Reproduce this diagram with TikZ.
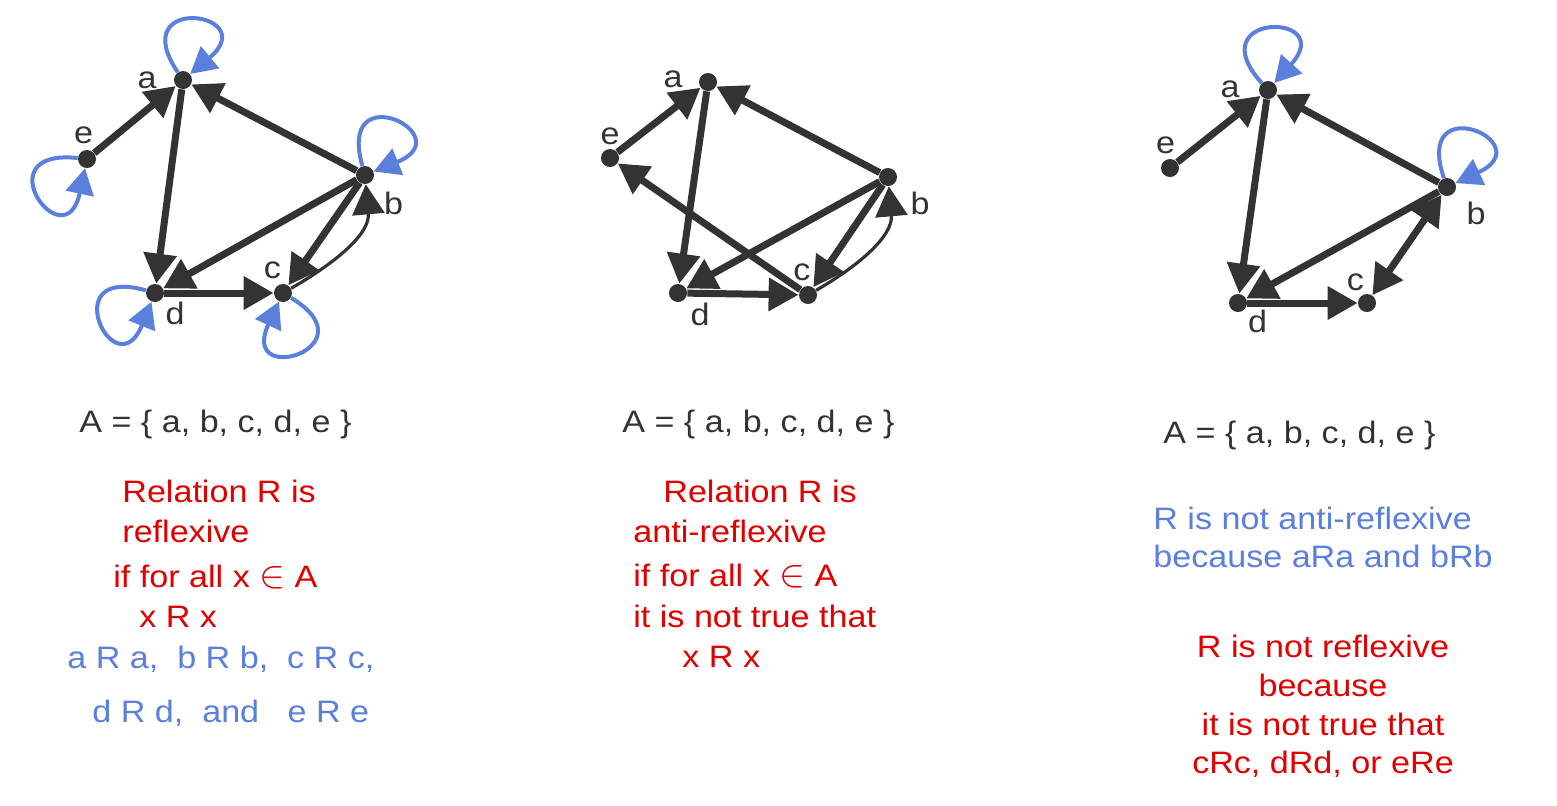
\documentclass[tikz,border=0pt]{standalone}
\usepackage{fontspec}
\setmainfont{Liberation Sans}[FakeStretch=1.1]
\usepackage{graphicx}
\usepackage{tikz}
\usetikzlibrary{positioning, calc}
\usetikzlibrary{arrows.meta}
\definecolor{edgegray}{HTML}{333333}
\definecolor{loopblue}{HTML}{5A7FDD}
\definecolor{textred}{HTML}{E00000}
\newcommand{\txtfont}{\fontsize{15.5pt}{18pt}\selectfont}
\newcommand{\elem}{\scalebox{1.35}{$\in$}}
\tikzstyle{vertex}=[circle, fill=edgegray, inner sep=0pt, minimum size=9pt]
\tikzstyle{vlabel}=[text=edgegray, inner sep=0pt, font=\txtfont]
\tikzstyle{edgepath}=[color=edgegray, line width=3.5pt, -{Triangle[length=15pt,width=16pt]}]
\tikzstyle{curvepath}=[line width=1.6pt]
\tikzstyle{tipboth}=[{Triangle[length=15pt,width=16pt]}-{Triangle[length=15pt,width=16pt]}]
\tikzstyle{reflloop}=[color=loopblue, line width=2pt, -{Triangle[length=13pt,width=14pt]}, distance=48pt]
\tikzstyle{settext}=[text=edgegray, anchor=base west, inner sep=0pt, font=\txtfont]
\tikzstyle{redtext}=[settext, text=textred]
\tikzstyle{bluetext}=[settext, text=loopblue]
\tikzset{
    offset/.style args={#1 from #2}{
        at = {([shift={#1}]#2)}
    }
}

\begin{document}
\begin{tikzpicture}[x=0.5pt, y=0.5pt]
    \useasboundingbox (0,0) rectangle (1557,-805);

    % reflexive
    \node[vertex] (a1) at (183,-80) {};
    \node[vertex] (b1) at (365,-175) {};
    \node[vertex] (c1) at (283,-293) {};
    \node[vertex] (d1) at (155,-293) {};
    \node[vertex] (e1) at (87,-159) {};
    \node[vlabel, offset={(-36,0)} from a1] (la1) {a};
    \node[vlabel, offset={(28.5,-28.5)} from b1] (lb1) {b};
    \node[vlabel, offset={(-10.5,22.5)} from c1] (lc1) {c};
    \node[vlabel, offset={(20,-20)} from d1] (ld1) {d};
    \node[vlabel, offset={(-3.5,23.5)} from e1] (le1) {e};

    \path[edgepath]
        (e1) edge (a1)
        (b1) edge (a1)
        (a1) edge (d1)
        (b1) edge (d1)
        (d1) edge (c1)
        (b1) edge (c1)
        (c1) edge[curvepath, out=30, in=-85] (b1);
    \path[reflloop]
        (a1) edge[out=124, in=40] (a1)
        (b1) edge[out=106, in=22] (b1)
        (c1) edge[out=329, in=245] (c1)
        (d1) edge[out=164, in=248] (d1)
        (e1) edge[out=174, in=258] (e1);

    % anti-reflexive
    \node[vertex] (a2) at (708,-82) {};
    \node[vertex] (b2) at (888,-177) {};
    \node[vertex] (c2) at (808,-295) {};
    \node[vertex] (d2) at (678,-293) {};
    \node[vertex] (e2) at (610,-158) {};
    \node[vlabel, offset={(-35,3)} from a2] (la2) {a};
    \node[vlabel, offset={(32,-26)} from b2] (lb2) {b};
    \node[vlabel, offset={(-6,22.5)} from c2] (lc2) {c};
    \node[vlabel, offset={(22,-21)} from d2] (ld2) {d};
    \node[vlabel, offset={(0,22)} from e2] (le2) {e};

    \path[edgepath]
        (e2) edge (a2)
        (b2) edge (a2)
        (a2) edge (d2)
        (b2) edge (d2)
        (d2) edge (c2)
        (b2) edge (c2)
        (c2) edge (e2)
        (c2) edge[curvepath, out=30, in=-85] (b2);

    % neither
    \node[vertex] (a3) at (1268,-90) {};
    \node[vertex] (b3) at (1447,-187) {};
    \node[vertex] (c3) at (1367,-303) {};
    \node[vertex] (d3) at (1238,-303) {};
    \node[vertex] (e3) at (1170,-168) {};
    \node[vlabel, offset={(-38,1)} from a3] (la3) {a};
    \node[vlabel, offset={(29,-26)} from b3] (lb3) {b};
    \node[vlabel, offset={(-11.5,20.5)} from c3] (lc3) {c};
    \node[vlabel, offset={(19.5,-18.5)} from d3] (ld3) {d};
    \node[vlabel, offset={(-4.5,22.5)} from e3] (le3) {e};

    \path[edgepath]
        (e3) edge (a3)
        (b3) edge (a3)
        (a3) edge (d3)
        (b3) edge (d3)
        (d3) edge (c3)
        (c3) edge[tipboth] (b3);
    \path[reflloop]
        (a3) edge[out=132, in=48] (a3)
        (b3) edge[out=109, in=25] (b3);

    % texts
    \node[settext] (set1) at (79,-432) {A = \{ a, b, c, d, e \}};
    \node[redtext] (t11) at (122,-502) {Relation R is};
    \node[redtext] (t12) at (122,-542) {reflexive};
    \node[redtext] (t13) at (113,-587) {if for all x \elem{} A};
    \node[redtext] (t14) at (139,-627) {x R x};
    \node[bluetext] (t15) at (67,-668) {a R a,\ \ b R b,\ \ c R c,};
    \node[bluetext] (t16) at (92,-722) {d R d,\ \ and\ \ \ e R e};

    \node[settext] (set2) at (622,-432) {A = \{ a, b, c, d, e \}};
    \node[redtext] (t21) at (663,-502) {Relation R is};
    \node[redtext] (t22) at (633,-542) {anti-reflexive};
    \node[redtext] (t23) at (633,-586) {if for all x \elem{} A};
    \node[redtext] (t24) at (633,-627) {it is not true that};
    \node[redtext] (t25) at (682,-667) {x R x};

    \node[settext] (set3) at (1163,-443) {A = \{ a, b, c, d, e \}};
    \node[bluetext] (t31) at (1153,-529) {R is not anti-reflexive};
    \node[bluetext] (t32) at (1153,-567) {because aRa and bRb};
    \node[redtext, anchor=base] (t33) at (1323,-657) {R is not reflexive};
    \node[redtext, anchor=base] (t34) at (1323,-696) {because};
    \node[redtext, anchor=base] (t35) at (1323,-735) {it is not true that};
    \node[redtext, anchor=base] (t36) at (1323,-773) {cRc, dRd, or eRe};
\end{tikzpicture}
\end{document}
